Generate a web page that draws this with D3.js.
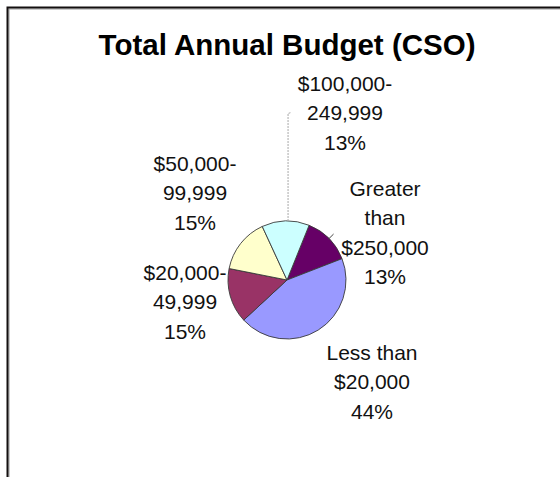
<!DOCTYPE html>
<html>
<head>
<meta charset="utf-8">
<script src="https://cdn.jsdelivr.net/npm/d3@7"></script>
<style>
  html, body { margin: 0; padding: 0; background: #fff; }
  svg { display: block; }
  text { font-family: "Liberation Sans", Arial, sans-serif; }
</style>
</head>
<body>
<svg id="chart" width="560" height="477"></svg>
<script>
// Budget bands, in clockwise order starting at the top right of the pie
const categories = [
  "Greater than $250,000",
  "Less than $20,000",
  "$20,000-49,999",
  "$50,000-99,999",
  "$100,000-249,999"
];
// Share of organisations in each band (percent)
const shares = [13, 44, 15, 15, 13];
// How each category name is broken over lines in its label
const labelLines = [
  ["Greater", "than", "$250,000"],
  ["Less than", "$20,000"],
  ["$20,000-", "49,999"],
  ["$50,000-", "99,999"],
  ["$100,000-", "249,999"]
];
const chartTitle = "Total Annual Budget (CSO)";

// Presentation settings
const palette = ["#660066", "#9999ff", "#993366", "#ffffcc", "#ccffff"];
const centre = { x: 287, y: 280 };
const radius = 59;
const startDeg = 22;
const lineHeight = 29.5;
// Label block anchors: centre of text, first baseline, relative to pie centre
const labelOffsets = [
  [98, -84.5],
  [85, 79.5],
  [-102, -0.5],
  [-92, -109.5],
  [58, -189.5]
];

const svg = d3.select("#chart");

// Chart area frame (only its top and left edges fall inside the view)
svg.append("rect")
  .attr("x", 8).attr("y", 8).attr("width", 700).attr("height", 700)
  .attr("fill", "none").attr("stroke", "#9a9a9a").attr("stroke-width", 1)
  .attr("transform", "translate(1,1)");
svg.append("rect")
  .attr("x", 7.5).attr("y", 7.5).attr("width", 700).attr("height", 700)
  .attr("fill", "none").attr("stroke", "#141010").attr("stroke-width", 2);

// Title
svg.append("text")
  .attr("x", 287).attr("y", 55)
  .attr("text-anchor", "middle")
  .attr("font-size", 29.5)
  .attr("font-weight", "bold")
  .attr("fill", "#000")
  .text(chartTitle);

const toRad = d => d * Math.PI / 180;
const pie = d3.pie()
  .sort(null)
  .value(d => d)
  .startAngle(toRad(startDeg))
  .endAngle(toRad(startDeg + 360));
const arcs = pie(shares);

const arc = d3.arc().innerRadius(0).outerRadius(radius);

const g = svg.append("g").attr("transform", `translate(${centre.x},${centre.y})`);

g.selectAll("path.slice")
  .data(arcs)
  .join("path")
  .attr("class", "slice")
  .attr("d", arc)
  .attr("fill", (d, i) => palette[i])
  .attr("stroke", "#3a3a3a")
  .attr("stroke-width", 0.9)
  .attr("stroke-linejoin", "round");

// Point on the rim at a slice's middle angle
const rimPoint = (d, r) => {
  const a = (d.startAngle + d.endAngle) / 2;
  return [r * Math.sin(a), -r * Math.cos(a)];
};

// Leader line for the top slice: straight up to its label
{
  const d = arcs[4];
  const p = rimPoint(d, radius);
  const topY = labelOffsets[4][1] + lineHeight * 0.78;
  g.append("path")
    .attr("d", d3.line()([[p[0] + 2.5, p[1]], [p[0] + 2.5, topY], [p[0] + 5.5, topY - 1]]))
    .attr("fill", "none")
    .attr("stroke", "#a8a8a8")
    .attr("stroke-width", 1)
    .attr("stroke-dasharray", "2,1");
}

// Short leader for the top-right slice
{
  const d = arcs[0];
  const p1 = rimPoint(d, radius - 1);
  const p2 = rimPoint(d, radius + 5);
  g.append("line")
    .attr("x1", p1[0]).attr("y1", p1[1])
    .attr("x2", p2[0] + 1).attr("y2", p2[1] - 1)
    .attr("stroke", "#444").attr("stroke-width", 1);
}

// Data labels: category name lines followed by the share
const labels = g.selectAll("text.lbl")
  .data(arcs)
  .join("text")
  .attr("class", "lbl")
  .attr("text-anchor", "middle")
  .attr("font-size", 21)
  .attr("fill", "#111");

labels.each(function(d, i) {
  const lines = labelLines[i].concat([`${shares[i]}%`]);
  const [ox, oy] = labelOffsets[i];
  d3.select(this).selectAll("tspan")
    .data(lines)
    .join("tspan")
    .attr("x", ox)
    .attr("y", (t, k) => oy + k * lineHeight)
    .text(t => t);
});
</script>
</body>
</html>
